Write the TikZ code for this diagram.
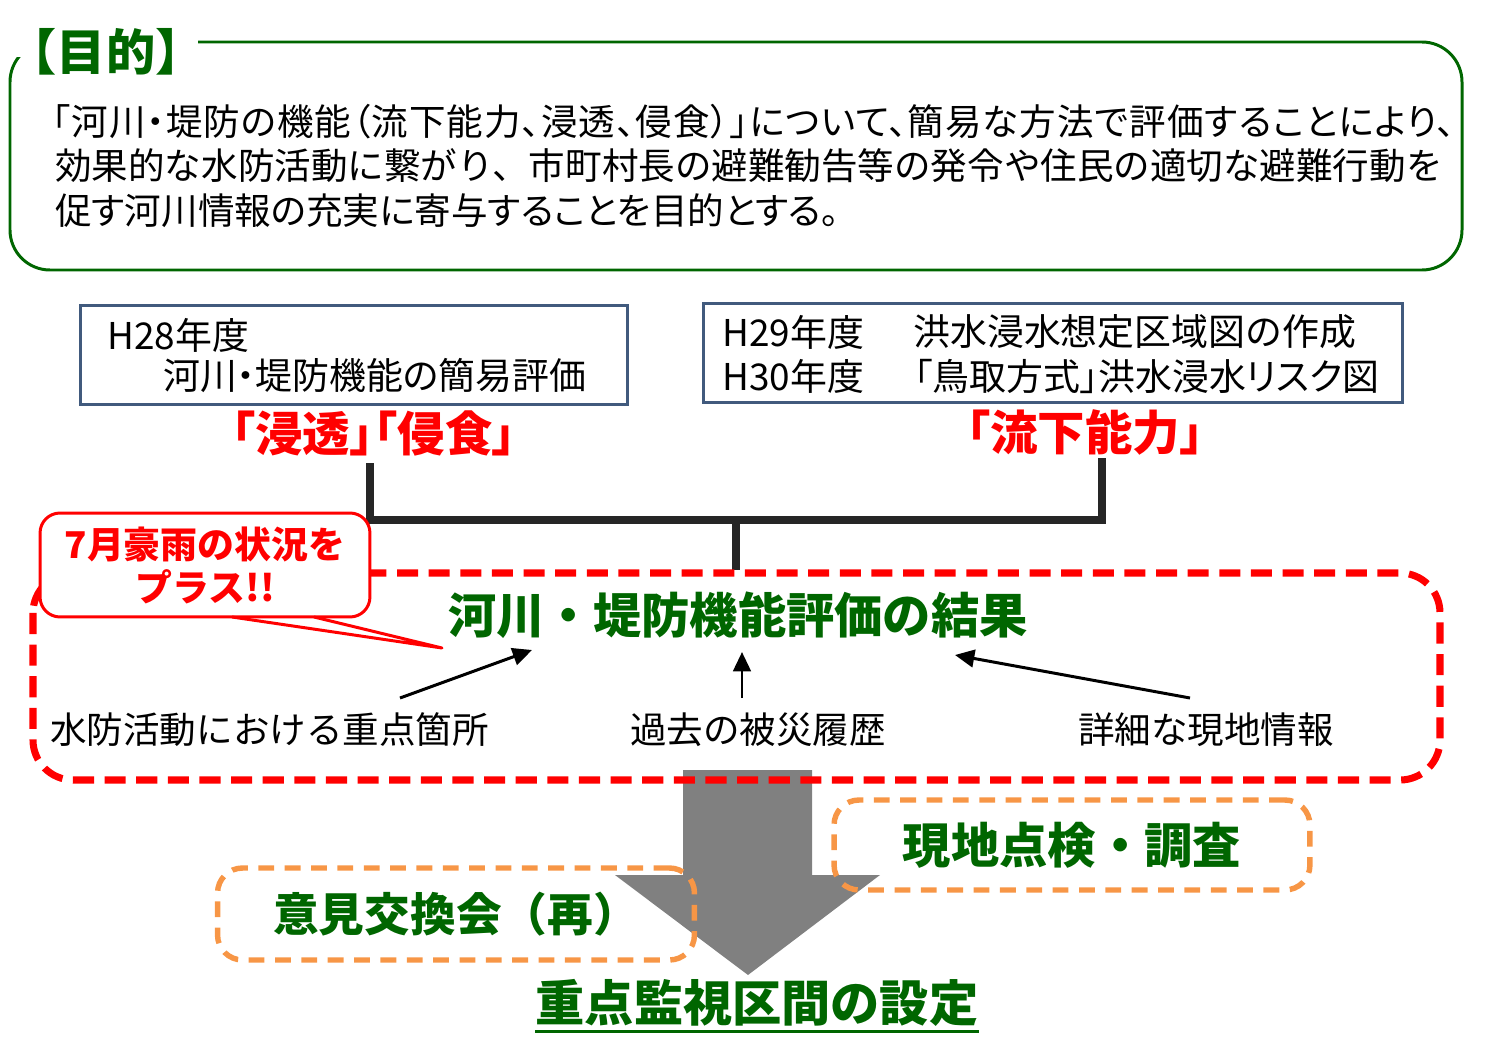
\documentclass[tikz,border=0pt]{standalone}
\usepackage{fontspec}
\setmainfont{Noto Sans CJK JP}
\newfontfamily\jpprop{Noto Sans CJK JP}[RawFeature=+palt]
\newfontfamily\jpwide{Noto Sans CJK JP}[RawFeature=+palt, LetterSpace=2.8]
\usetikzlibrary{arrows.meta,positioning}

\definecolor{framegreen}{RGB}{0,102,0}
\definecolor{boxblue}{RGB}{65,90,125}
\definecolor{alertred}{RGB}{255,0,0}
\definecolor{dashorange}{RGB}{247,150,70}
\definecolor{blockgray}{RGB}{128,128,128}
\definecolor{bracketblack}{RGB}{38,38,38}

\tikzset{
  bodytext/.style={font=\fontsize{20.8pt}{24pt}\selectfont, inner sep=0pt},
  boxtext/.style={font=\fontsize{21pt}{24pt}\selectfont, inner sep=0pt},
  infobox/.style={draw=boxblue, line width=1.7pt, minimum height=2cm},
  redlabel/.style={text=alertred, font=\bfseries\fontsize{27pt}{30pt}\selectfont\jpprop, inner sep=0pt},
  bigtitle/.style={text=framegreen, font=\bfseries\fontsize{27.5pt}{32pt}\selectfont, inner sep=0pt},
  titletext/.style={text=framegreen, font=\bfseries\fontsize{28pt}{32pt}\selectfont, inner sep=0pt},
  bracketline/.style={draw=bracketblack, line width=4.5pt},
  arr/.style={draw=black, line width=1.7pt, -{Triangle[length=11pt,width=10pt]}},
  orangebox/.style={draw=dashorange, line width=3.1pt, dash pattern=on 9pt off 6pt, rounded corners=0.5cm},
  rainbox/.style={draw=alertred, fill=white, line width=1.7pt, rounded corners=0.4cm, align=center,
    text=alertred, font=\bfseries\fontsize{21pt}{24.5pt}\selectfont},
}

\begin{document}
\begin{tikzpicture}[x=0.02cm, y=-0.02cm]
  \useasboundingbox (0,0) rectangle (1492,1064);

  % 目的の枠
  \draw[framegreen, line width=1.7pt, rounded corners=0.8cm] (10,42) rectangle (1462,270);
  \fill[white] (14,8) rectangle (198,57);
  \node[titletext] (title) at (106,52) {【目的】};
  \node[bodytext, anchor=west] (obj1) at (52,122) {\jpwide 「河川・堤防の機能（流下能力、浸透、侵食）」について、簡易な方法で評価することにより、};
  \node[bodytext, anchor=west] (obj2) at (55,166) {効果的な水防活動に繋がり、市町村長の避難勧告等の発令や住民の適切な避難行動を};
  \node[bodytext, anchor=west] (obj3) at (55,211) {\jpprop 促す河川情報の充実に寄与することを目的とする。};

  % 年度ごとの取組
  \node[infobox, minimum width=10.96cm] (boxA) at (354,355) {};
  \node[infobox, minimum width=14cm] (boxB) at (1053,353) {};
  \node[boxtext, anchor=west] (h28) at (107,335) {H28年度};
  \node[boxtext, anchor=west] (h28b) at (163,376) {\jpprop 河川・堤防機能の簡易評価};
  \node[boxtext, anchor=west] (h29) at (722,332) {H29年度};
  \node[boxtext, anchor=west] (h29b) at (913,332) {洪水浸水想定区域図の作成};
  \node[boxtext, anchor=west] (h30) at (722,376) {H30年度};
  \node[boxtext, anchor=east] (h30b) at (1380,376) {\jpprop 「鳥取方式」洪水浸水リスク図};

  \node[redlabel] (shinto) at (374,433) {「浸透」「侵食」};
  \node[redlabel] (ryuka) at (1085,432) {「流下能力」};

  % 結合線
  \coordinate (bl) at (370,463);
  \coordinate (jl) at (370,520);
  \coordinate (jr) at (1102,520);
  \coordinate (br) at (1102,458);
  \coordinate (jm) at (736,520);
  \coordinate (stem) at (736,570);
  \draw[bracketline] (bl) -- (jl) -- (jr) -- (br);
  \draw[bracketline] (jm) -- (stem);

  % 下向きの矢印
  \fill[blockgray] (683,770) -- (812,770) -- (812,875) -- (880,875) -- (748,975)
    -- (615,875) -- (683,875) -- cycle;

  % 評価結果の枠
  \draw[alertred, line width=4pt, dash pattern=on 12pt off 6pt, rounded corners=0.8cm]
    (33,573) rectangle (1440,780);

  % 吹き出し
  \node[rainbox, minimum width=6.6cm, minimum height=2.08cm] (rain) at (205,565)
    {7月豪雨の状況を\\プラス!!};
  \coordinate (pb1) at (232,617);
  \coordinate (pb2) at (314,617);
  \coordinate (tip) at (442,648);
  \fill[white] ([yshift=-1.5pt]pb1) -- (tip) -- ([yshift=-1.5pt]pb2) -- cycle;
  \draw[alertred, line width=1.7pt, line join=round] (pb1) -- (tip) -- (pb2);

  \node[bigtitle] (result) at (738,615) {河川・堤防機能評価の結果};

  \node[bodytext, anchor=west] (spot) at (50,730) {水防活動における重点箇所};
  \node[bodytext] (hist) at (758,730) {過去の被災履歴};
  \node[bodytext] (local) at (1206,730) {詳細な現地情報};

  \coordinate (a1s) at (400,698);
  \coordinate (a1e) at (532,650);
  \coordinate (a2s) at (742,698);
  \coordinate (a2e) at (742,652);
  \coordinate (a3s) at (1190,698);
  \coordinate (a3e) at (955,655);
  \draw[arr] (a1s) -- (a1e);
  \draw[arr] (a2s) -- (a2e);
  \draw[arr] (a3s) -- (a3e);

  % 点検と意見交換
  \node[orangebox, bigtitle, minimum width=9.52cm, minimum height=1.8cm] (survey) at (1072,845) {現地点検・調査};
  \node[orangebox, bigtitle, font=\bfseries\fontsize{26pt}{30pt}\selectfont, minimum width=9.54cm, minimum height=1.84cm] (meeting) at (456,914) {意見交換会（再）};

  % 設定
  \node[bigtitle, font=\bfseries\fontsize{28pt}{32pt}\selectfont] (zone) at (757,1003) {重点監視区間の設定};
  \draw[framegreen, line width=1.7pt] ([yshift=-5.5pt]zone.base west) -- ([yshift=-5.5pt]zone.base east);
\end{tikzpicture}
\end{document}
